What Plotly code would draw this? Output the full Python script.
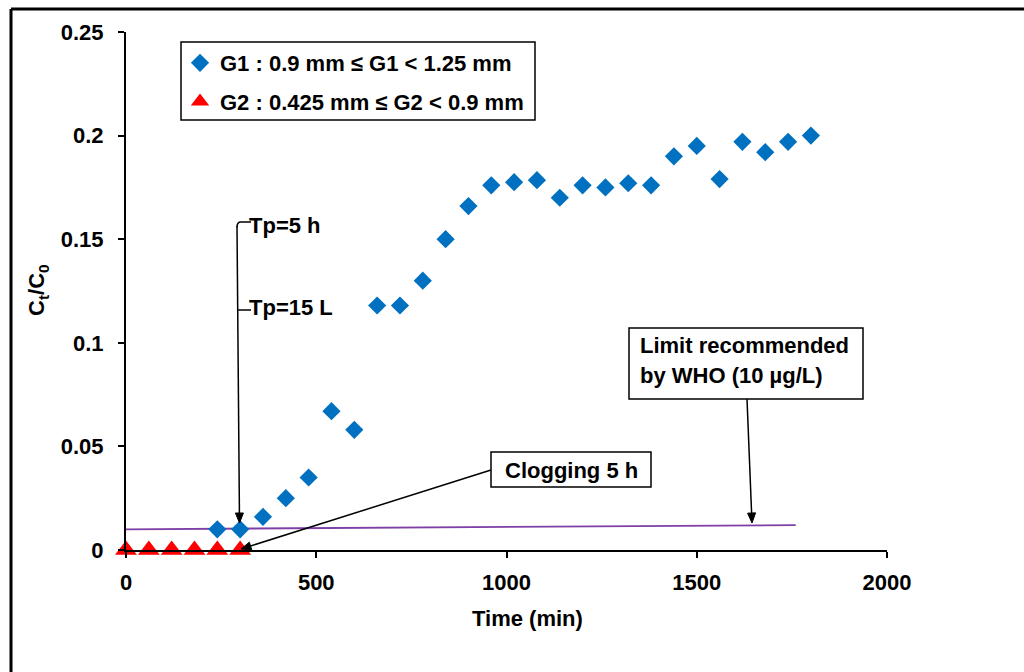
import math
import plotly.graph_objects as go

# ---------------- data ----------------
g1_time = [240, 300, 360, 420, 480, 540, 600, 660, 720, 780, 840, 900, 960, 1020,
           1080, 1140, 1200, 1260, 1320, 1380, 1440, 1500, 1560, 1620, 1680, 1740, 1800]
g1_ratio = [0.010, 0.010, 0.016, 0.025, 0.035, 0.067, 0.058, 0.118, 0.118, 0.130,
            0.150, 0.166, 0.176, 0.1775, 0.1785, 0.170, 0.176, 0.175, 0.177, 0.176,
            0.190, 0.195, 0.179, 0.197, 0.192, 0.197, 0.200]
g2_time = [0, 60, 120, 180, 240, 300]
g2_ratio = [0, 0, 0, 0, 0, 0]
who_time = [0, 1760]
who_ratio = [0.010, 0.012]

x_ticks = [0, 500, 1000, 1500, 2000]
x_ticklabels = ["0", "500", "1000", "1500", "2000"]
y_ticks = [0, 0.05, 0.1, 0.15, 0.2, 0.25]
y_ticklabels = ["0", "0.05", "0.1", "0.15", "0.2", "0.25"]

g1_name = "G1 : 0.9 mm \u2264 G1 < 1.25 mm"
g2_name = "G2 : 0.425 mm \u2264 G2 < 0.9 mm"

# ---------------- layout geometry ----------------
W, H = 1024, 672
L, R, T, B = 126, 887, 32, 550
XMAX, YMAX = 2000, 0.25


def dx(px):
    return (px - L) / (R - L) * XMAX


def dy(py):
    return (B - py) / (B - T) * YMAX


def px_(px):
    return (px - L) / (R - L)


def py_(py):
    return (B - py) / (B - T)


FONT = "Liberation Sans, Arial, sans-serif"
FS = 22

fig = go.Figure()
fig.add_trace(go.Scatter(
    x=who_time, y=who_ratio, mode="lines", showlegend=False,
    line=dict(color="#7E3FA6", width=1.8), cliponaxis=False))
fig.add_trace(go.Scatter(
    x=g1_time, y=g1_ratio, mode="markers", name=g1_name, legendgroup="a",
    marker=dict(symbol="diamond", size=14, color="#0070C0"), cliponaxis=False))
fig.add_trace(go.Scatter(
    x=g2_time, y=g2_ratio, mode="markers", name=g2_name, legendgroup="b",
    marker=dict(symbol="triangle-up", size=19, color="#FF0000"), cliponaxis=False))

shapes = []
# outer frame
shapes.append(dict(type="line", xref="paper", yref="paper", x0=px_(11), y0=py_(9),
                   x1=px_(1030), y1=py_(9), line=dict(color="black", width=3)))
shapes.append(dict(type="line", xref="paper", yref="paper", x0=px_(11), y0=py_(9),
                   x1=px_(11), y1=py_(680), line=dict(color="black", width=3)))
# legend box
shapes.append(dict(type="rect", xref="paper", yref="paper", x0=px_(181), y0=py_(42),
                   x1=px_(535), y1=py_(120), line=dict(color="black", width=1.5)))
# bracket ticks
shapes.append(dict(type="path", xref="x", yref="y",
                   path=f"M {dx(251)},{dy(222)} L {dx(241)},{dy(222)} Q {dx(237)},{dy(222)} {dx(237)},{dy(227)}",
                   line=dict(color="black", width=1.5)))
shapes.append(dict(type="line", xref="x", yref="y", x0=dx(237), y0=dy(310),
                   x1=dx(251), y1=dy(310), line=dict(color="black", width=1.5)))
# clogging box
shapes.append(dict(type="rect", xref="x", yref="y", x0=dx(491), y0=dy(452),
                   x1=dx(651), y1=dy(487), line=dict(color="black", width=1.5),
                   fillcolor="white"))
# WHO box
shapes.append(dict(type="rect", xref="x", yref="y", x0=dx(629), y0=dy(328),
                   x1=dx(863), y1=dy(399), line=dict(color="black", width=1.5),
                   fillcolor="white"))


def arrow(tx, ty, hx, hy, head_len=10, half_w=4):
    vx, vy = hx - tx, hy - ty
    n = math.hypot(vx, vy)
    ux, uy = vx / n, vy / n
    bx, by = hx - ux * head_len, hy - uy * head_len
    shapes.append(dict(type="line", xref="x", yref="y", x0=dx(tx), y0=dy(ty),
                       x1=dx(bx), y1=dy(by), line=dict(color="black", width=1.5)))
    p1 = (bx - uy * half_w, by + ux * half_w)
    p2 = (bx + uy * half_w, by - ux * half_w)
    path = (f"M {dx(hx)},{dy(hy)} L {dx(p1[0])},{dy(p1[1])} "
            f"L {dx(p2[0])},{dy(p2[1])} Z")
    shapes.append(dict(type="path", xref="x", yref="y", path=path,
                       fillcolor="black", line=dict(color="black", width=1)))


arrow(237, 226, 239.5, 523)
arrow(491, 470, 241, 549)
arrow(747, 399, 752, 523)

tfont = dict(family=FONT, size=FS, color="black", weight="bold")
ann = []
ann.append(dict(x=dx(247), y=dy(225), xref="x", yref="y", text="Tp=5 h",
                showarrow=False, xanchor="left", yanchor="middle", font=tfont))
ann.append(dict(x=dx(247), y=dy(307), xref="x", yref="y", text="Tp=15 L",
                showarrow=False, xanchor="left", yanchor="middle", font=tfont))
ann.append(dict(x=dx(571), y=dy(470), xref="x", yref="y", text="Clogging 5 h",
                showarrow=False, xanchor="center", yanchor="middle", font=tfont))
ann.append(dict(x=dx(638), y=dy(345), xref="x", yref="y", text="Limit recommended",
                showarrow=False, xanchor="left", yanchor="middle", font=tfont))
ann.append(dict(x=dx(638), y=dy(375), xref="x", yref="y", text="by WHO (10 \u00b5g/L)",
                showarrow=False, xanchor="left", yanchor="middle", font=tfont))
# axis titles
ann.append(dict(x=px_(38), y=py_(290), xref="paper", yref="paper",
                text="C<sub>t</sub>/C<sub>0</sub>", textangle=-90, showarrow=False,
                xanchor="center", yanchor="middle", font=tfont))
ann.append(dict(x=px_(527), y=py_(618), xref="paper", yref="paper",
                text="Time (min)", showarrow=False, xanchor="center", yanchor="middle",
                font=tfont))

fig.update_layout(
    width=W, height=H,
    margin=dict(l=L, r=W - R, t=T, b=H - B, pad=0),
    paper_bgcolor="white", plot_bgcolor="white",
    font=dict(family=FONT, size=FS, color="black"),
    shapes=shapes, annotations=ann,
    legend=dict(x=px_(180), y=py_(42), xanchor="left", yanchor="top",
                bgcolor="rgba(0,0,0,0)", borderwidth=0, tracegroupgap=7,
                font=dict(family=FONT, size=FS, color="black", weight="bold"),
                traceorder="grouped"),
    xaxis=dict(range=[0, XMAX], tickvals=x_ticks, ticktext=x_ticklabels,
               showgrid=False, zeroline=False, showline=True, linecolor="black",
               linewidth=2, ticks="outside", ticklen=6, tickwidth=2, tickcolor="black",
               ticklabelstandoff=6,
               tickfont=dict(family=FONT, size=FS, color="black", weight="bold")),
    yaxis=dict(range=[0, YMAX], tickvals=y_ticks, ticktext=y_ticklabels,
               showgrid=False, zeroline=False, showline=True, linecolor="black",
               linewidth=2, ticks="outside", ticklen=6, tickwidth=2, tickcolor="black",
               ticklabelstandoff=10,
               tickfont=dict(family=FONT, size=FS, color="black", weight="bold")),
)

fig.write_html("out.html")
